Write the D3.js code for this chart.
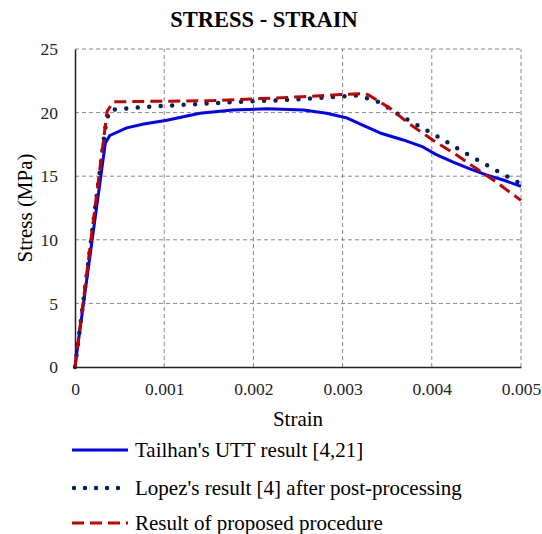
<!DOCTYPE html>
<html>
<head>
<meta charset="utf-8">
<script src="https://cdn.jsdelivr.net/npm/d3@7"></script>
<style>
  body { margin: 0; background: #fff; }
</style>
</head>
<body>
<div id="chart"></div>
<script>
// Tailhan's UTT result [4,21]
const tailhanStrain = [0, 0.00002, 0.00034, 0.00039, 0.00058, 0.00077, 0.00103, 0.0014, 0.00177, 0.00215, 0.00256, 0.00282, 0.00304, 0.00323, 0.00342, 0.00368, 0.0039, 0.00405, 0.00424, 0.00442, 0.00461, 0.0048, 0.005];
const tailhanStress = [0, 1.1, 17.6, 18.2, 18.8, 19.1, 19.4, 19.95, 20.2, 20.3, 20.2, 19.95, 19.6, 19.0, 18.4, 17.85, 17.3, 16.7, 16.1, 15.6, 15.1, 14.7, 14.2];

// Lopez's result [4] after post-processing
const lopezStrain = [0, 0.000336, 0.000355, 0.00039, 0.00052, 0.00091, 0.00144, 0.00185, 0.00222, 0.00263, 0.00293, 0.00317, 0.00342, 0.00364, 0.00388, 0.00411, 0.00433, 0.00457, 0.0048, 0.005];
const lopezStress = [0, 18.6, 19.4, 20.2, 20.3, 20.5, 20.7, 20.85, 20.95, 21.1, 21.25, 21.35, 20.8, 19.8, 18.85, 17.95, 17.0, 16.05, 15.15, 14.4];

// Result of proposed procedure
const proposedStrain = [0, 0.00036, 0.00043, 0.00103, 0.00156, 0.00208, 0.00256, 0.00293, 0.00325, 0.0033, 0.00353, 0.00375, 0.00401, 0.00427, 0.0045, 0.00472, 0.005];
const proposedStress = [0, 20.1, 20.85, 20.9, 20.95, 21.1, 21.25, 21.4, 21.5, 21.35, 20.35, 19.1, 17.85, 16.7, 15.6, 14.55, 13.1];

const xTicks = [0, 0.001, 0.002, 0.003, 0.004, 0.005];
const yTicks = [0, 5, 10, 15, 20, 25];

const seriesNames = ["Tailhan's UTT result [4,21]", "Lopez's result [4] after post-processing", "Result of proposed procedure"];

const width = 542;
const height = 534;
const margin = { top: 49, right: 21, bottom: 167, left: 75 };
const serif = "'Liberation Serif', 'Times New Roman', serif";

const svg = d3.select("#chart")
    .append("svg")
    .attr("width", width)
    .attr("height", height);

const x = d3.scaleLinear()
    .domain([0, 0.005])
    .range([margin.left, width - margin.right]);

const y = d3.scaleLinear()
    .domain([0, 25])
    .range([height - margin.bottom, margin.top]);

// Grid lines
svg.append("g")
    .selectAll("line")
    .data(xTicks.slice(1))
    .join("line")
    .attr("x1", d => x(d)).attr("x2", d => x(d))
    .attr("y1", y(0)).attr("y2", y(25))
    .attr("stroke", "#888")
    .attr("stroke-width", 1)
    .attr("stroke-dasharray", "4,3");

svg.append("g")
    .selectAll("line")
    .data(yTicks.slice(1))
    .join("line")
    .attr("x1", x(0)).attr("x2", x(0.005))
    .attr("y1", d => y(d)).attr("y2", d => y(d))
    .attr("stroke", "#888")
    .attr("stroke-width", 1)
    .attr("stroke-dasharray", "4,3");

// Axes
const xAxis = svg.append("g")
    .attr("transform", `translate(0,${y(0)})`)
    .call(d3.axisBottom(x).tickValues(xTicks).tickSize(0).tickPadding(16)
        .tickFormat(d => d === 0 ? "0" : d3.format(".3f")(d)));
xAxis.select(".domain").attr("stroke", "#222").attr("stroke-width", 1.5);

const yAxis = svg.append("g")
    .attr("transform", `translate(${x(0)},0)`)
    .call(d3.axisLeft(y).tickValues(yTicks).tickSize(0).tickPadding(17));
yAxis.select(".domain").attr("stroke", "#222").attr("stroke-width", 1.5);

svg.selectAll(".tick text")
    .style("font-family", serif)
    .style("font-size", "17.5px")
    .style("fill", "#222");

// Title and axis labels
svg.append("text")
    .attr("x", 264)
    .attr("y", 26.5)
    .attr("text-anchor", "middle")
    .style("font-family", serif)
    .style("font-size", "22.5px")
    .style("font-weight", "bold")
    .text("STRESS - STRAIN");

svg.append("text")
    .attr("x", 298)
    .attr("y", 426)
    .attr("text-anchor", "middle")
    .style("font-family", serif)
    .style("font-size", "21px")
    .text("Strain");

svg.append("text")
    .attr("transform", "translate(32,208) rotate(-90)")
    .attr("text-anchor", "middle")
    .style("font-family", serif)
    .style("font-size", "21px")
    .text("Stress (MPa)");

// Series
const series = [
    { strain: tailhanStrain, stress: tailhanStress, color: "#0000ff", width: 3, dash: null, cap: "butt" },
    { strain: lopezStrain, stress: lopezStress, color: "#002060", width: 4.5, dash: "0,11.5", cap: "round" },
    { strain: proposedStrain, stress: proposedStress, color: "#c00000", width: 3, dash: "12,6", cap: "butt" }
];

const line = d3.line()
    .x(d => x(d[0]))
    .y(d => y(d[1]));

svg.append("g")
    .selectAll("path")
    .data(series)
    .join("path")
    .attr("fill", "none")
    .attr("stroke", d => d.color)
    .attr("stroke-width", d => d.width)
    .attr("stroke-dasharray", d => d.dash)
    .attr("stroke-linecap", d => d.cap)
    .attr("stroke-linejoin", "round")
    .attr("d", d => line(d.strain.map((s, i) => [s, d.stress[i]])));

// Legend
const legendY = [450, 488, 523];
const legend = svg.append("g")
    .selectAll("g")
    .data(series)
    .join("g")
    .attr("transform", (d, i) => `translate(72,${legendY[i]})`);

legend.append("line")
    .attr("x1", d => d.cap === "round" ? 2 : 0)
    .attr("x2", 56)
    .attr("stroke", d => d.color)
    .attr("stroke-width", d => d.width)
    .attr("stroke-dasharray", d => d.dash === null ? null : (d.cap === "round" ? "0,11" : "12,6"))
    .attr("stroke-linecap", d => d.cap);

legend.append("text")
    .attr("x", 63)
    .attr("y", 7)
    .style("font-family", serif)
    .style("font-size", "21px")
    .text((d, i) => seriesNames[i]);
</script>
</body>
</html>
